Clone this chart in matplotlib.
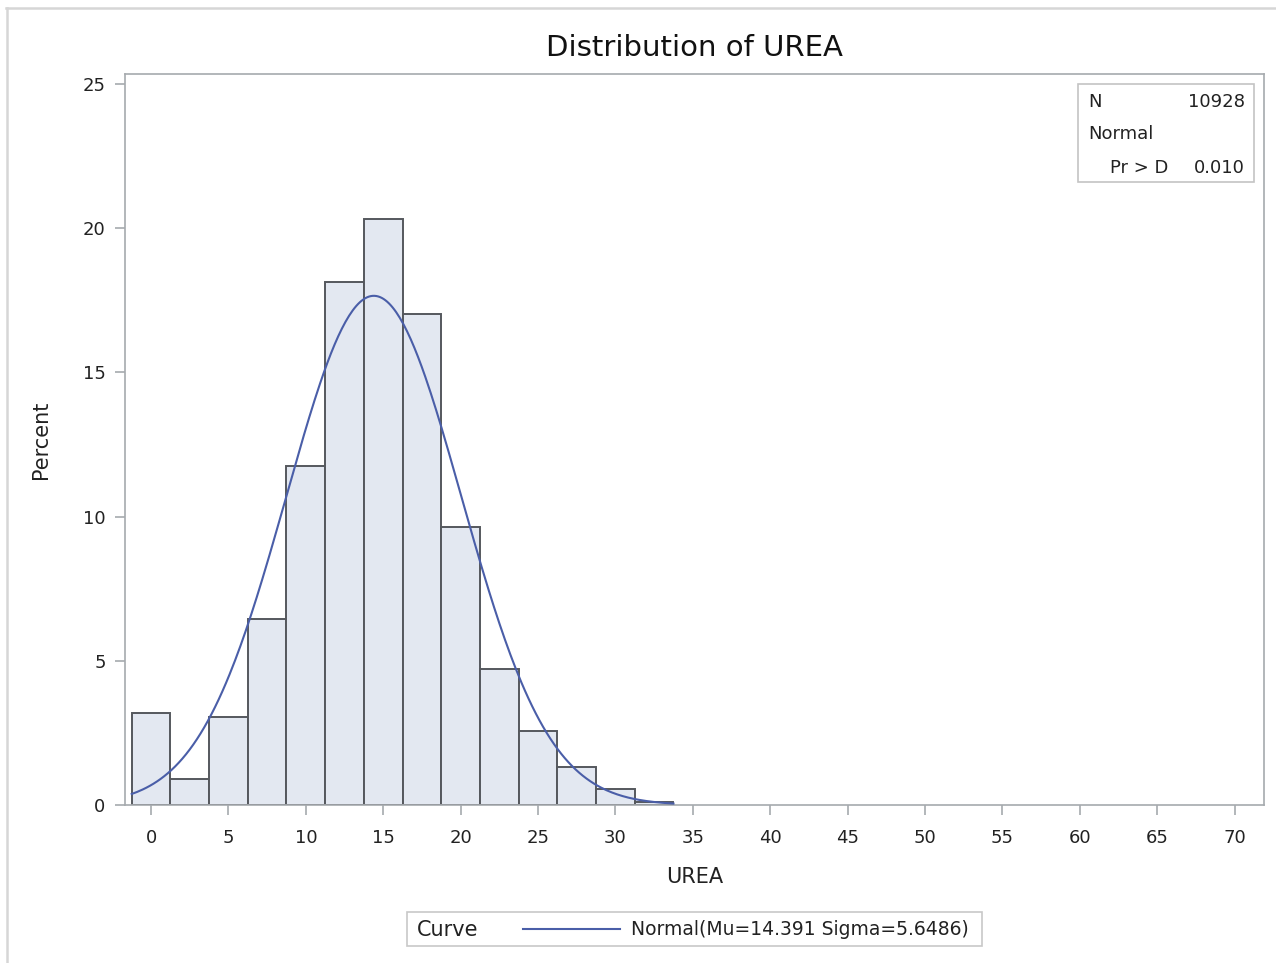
import numpy as np
import matplotlib
matplotlib.use("Agg")
import matplotlib.pyplot as plt
from matplotlib.patches import Rectangle
from matplotlib.lines import Line2D

# histogram of UREA, bins of width 2.5 centred on the midpoints
midpoints = [0, 2.5, 5, 7.5, 10, 12.5, 15, 17.5, 20, 22.5, 25, 27.5, 30, 32.5]
percent = [3.19, 0.90, 3.04, 6.45, 11.75, 18.12, 20.33, 17.02, 9.64, 4.72, 2.57, 1.32, 0.55, 0.10]
bin_width = 2.5

# fitted normal curve parameters
mu = 14.391
sigma = 5.6486
n_obs = 10928
p_value = "0.010"

xticks = list(range(0, 75, 5))
yticks = [0, 5, 10, 15, 20, 25]

plt.rcParams['font.family'] = ['DejaVu Sans']

fig = plt.figure(figsize=(12.76, 9.63), dpi=100)
ax = fig.add_axes([0.098, 0.1641, 0.8926, 0.7591])

spine_col = '#a6aaae'
ax.bar(midpoints, percent, width=bin_width, color='#e3e8f1',
       edgecolor='#55585d', linewidth=1.4, zorder=2)

# normal density scaled to percent per bin
xs = np.linspace(midpoints[0] - bin_width / 2, midpoints[-1] + bin_width / 2, 300)
ys = 100 * bin_width * np.exp(-0.5 * ((xs - mu) / sigma) ** 2) / (sigma * np.sqrt(2 * np.pi))
ax.plot(xs, ys, color='#4a5ea8', linewidth=1.5, zorder=3)

ax.set_xlim(-1.68, 71.9)
ax.set_ylim(0, 25.35)
ax.set_xticks(xticks)
ax.set_yticks(yticks)
for s in ax.spines.values():
    s.set_color(spine_col)
    s.set_linewidth(1.2)
ax.tick_params(axis='both', colors=spine_col, labelcolor='#222222',
               labelsize=13, length=7, width=1.2)
ax.tick_params(axis='x', pad=10)
ax.tick_params(axis='y', pad=7)

ax.set_xlabel('UREA', fontsize=15, color='#222222', labelpad=15)
ax.set_ylabel('Percent', fontsize=15, color='#222222', labelpad=23)
ax.set_title('Distribution of UREA', fontsize=21, color='#111111', pad=13)

# statistics inset
ax.add_patch(Rectangle((0.8367, 0.852), 0.1545, 0.1343, transform=ax.transAxes,
                       facecolor='white', edgecolor='#c4c4c4', linewidth=1.2, zorder=4))
stat_kw = dict(transform=ax.transAxes, fontsize=13, color='#222222', va='center', zorder=5)
ax.text(0.8455, 0.9617, 'N', ha='left', **stat_kw)
ax.text(0.9833, 0.9617, str(n_obs), ha='right', **stat_kw)
ax.text(0.8455, 0.9179, 'Normal', ha='left', **stat_kw)
ax.text(0.8648, 0.8714, 'Pr > D', ha='left', **stat_kw)
ax.text(0.9833, 0.8714, p_value, ha='right', **stat_kw)

# legend strip below the axes
fig.patches.append(Rectangle((407 / 1276, 1 - 946 / 963), 575 / 1276, 34 / 963,
                             transform=fig.transFigure, facecolor='white',
                             edgecolor='#c8c8c8', linewidth=1.2))
fig.text(417 / 1276, 1 - 930 / 963, 'Curve', fontsize=15, color='#222222', va='center')
fig.add_artist(Line2D([523 / 1276, 620 / 1276], [1 - 929 / 963, 1 - 929 / 963],
                      transform=fig.transFigure, color='#4a5ea8', linewidth=1.5))
fig.text(631 / 1276, 1 - 929 / 963, 'Normal(Mu=%s Sigma=%s)' % (mu, sigma),
         fontsize=13.5, color='#222222', va='center')

# frame along top and left edge
fig.add_artist(Line2D([6 / 1276, 1], [1 - 8 / 963, 1 - 8 / 963],
                      transform=fig.transFigure, color='#d6d6d6', linewidth=1.8))
fig.add_artist(Line2D([7 / 1276, 7 / 1276], [0, 1 - 8 / 963],
                      transform=fig.transFigure, color='#d6d6d6', linewidth=1.8))

fig.savefig('out.png', dpi=100)
